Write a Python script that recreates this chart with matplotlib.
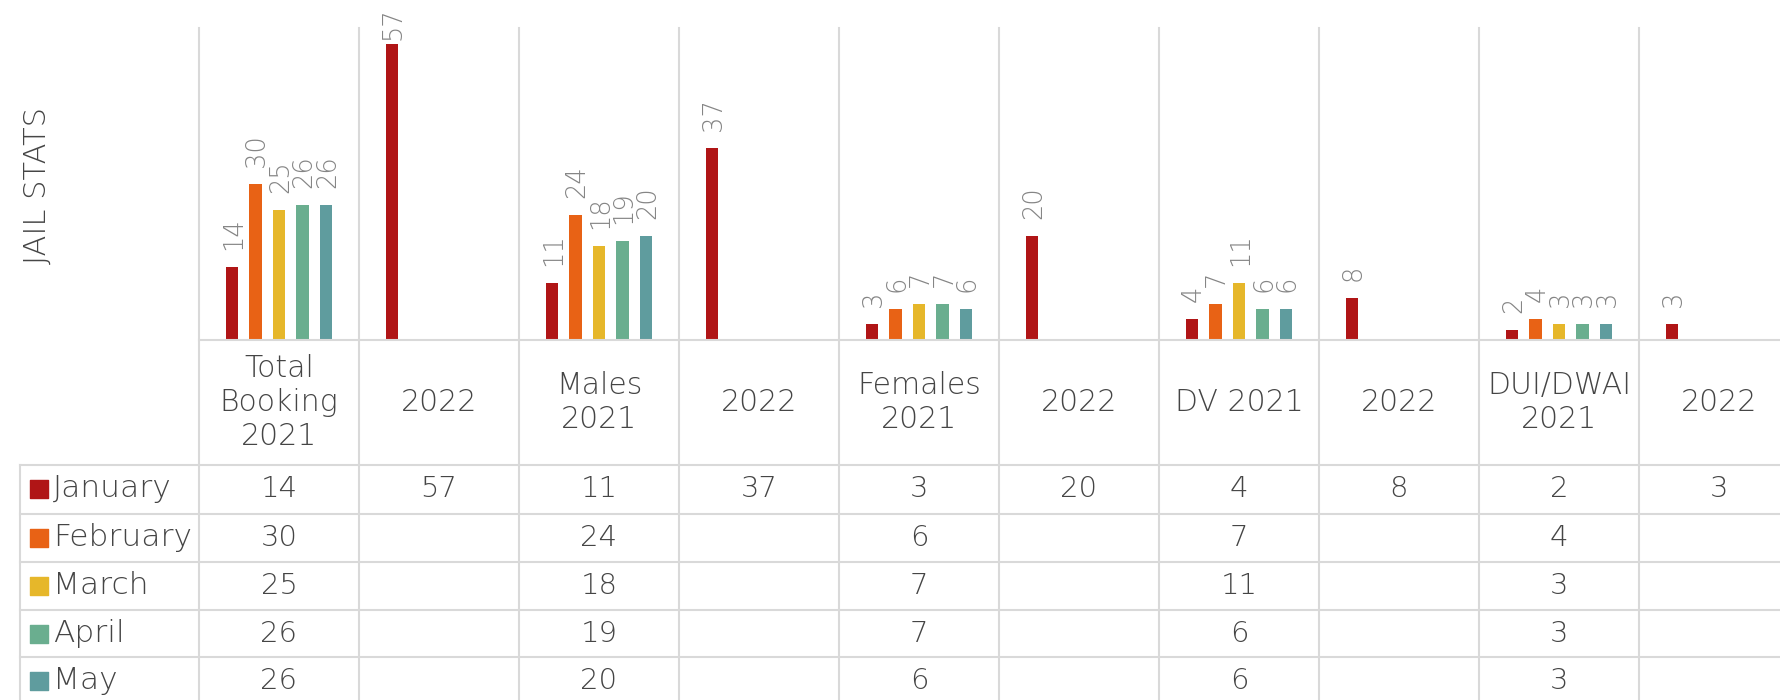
import numpy as np
import matplotlib
matplotlib.use("Agg")
import matplotlib.pyplot as plt
import matplotlib.transforms as mtransforms

plt.rcParams['font.family'] = ['DejaVu Sans']
plt.rcParams['font.weight'] = 'light'

nan = np.nan
categories = ['Total\nBooking\n2021', '2022', 'Males\n2021', '2022', 'Females\n2021',
              '2022', 'DV 2021', '2022', 'DUI/DWAI\n2021', '2022']
months = ['January', 'February', 'March', 'April', 'May']
january = [14, 57, 11, 37, 3, 20, 4, 8, 2, 3]
february = [30, nan, 24, nan, 6, nan, 7, nan, 4, nan]
march = [25, nan, 18, nan, 7, nan, 11, nan, 3, nan]
april = [26, nan, 19, nan, 7, nan, 6, nan, 3, nan]
may = [26, nan, 20, nan, 6, nan, 6, nan, 3, nan]
series = [january, february, march, april, may]
colors = ['#B01516', '#E86215', '#E6B72A', '#6AAE8F', '#5F9C9E']

W, H = 1780, 700
grid_c = '#D9D9D9'
text_c = '#454545'
label_c = '#858585'

fig = plt.figure(figsize=(W / 100, H / 100), dpi=100)
# plot area: x from 199px, 160px per category; baseline at 340px, top at 28px
left_px, cat_w, base_px, top_px = 199, 160, 340, 28
ax = fig.add_axes([left_px / W, 1 - base_px / H, cat_w * len(categories) / W, (base_px - top_px) / H])
ax.set_xlim(0, len(categories))
ax.set_ylim(0, 60)
for s in ax.spines.values():
    s.set_visible(False)
ax.set_xticks([])
ax.set_yticks([])

x = np.arange(len(categories)) + 0.5
step, bw = 0.147, 0.078
for j, (vals, col) in enumerate(zip(series, colors)):
    xs = x + (j - 2) * step
    ax.bar(xs, vals, width=bw, color=col, zorder=3)
    for xi, v in zip(xs, vals):
        if np.isnan(v):
            continue
        # labels sit ~17px above the bar, but are kept inside the chart (top at ~11px)
        bar_top = H - ax.transData.transform((xi, v))[1]
        gap = max(min(17, bar_top - 40), 2)
        ax.annotate(f'{v:g}', (xi, v), xytext=(1, gap * 0.72), textcoords='offset points',
                    rotation=90, ha='center', va='bottom', fontsize=18.5,
                    color=label_c)

fig.text(37.5 / W, 1 - 186 / H, 'JAIL STATS', rotation=90, ha='center', va='center',
         fontsize=22, color=text_c)

# table drawn under the plot, x in category units, y in figure pixels
tr = mtransforms.blended_transform_factory(ax.transData, fig.transFigure)
def fy(px):
    return 1 - px / H

tab_left = (20 - left_px) / cat_w
lw = 1.5
for i in range(len(categories) + 1):
    ax.plot([i, i], [fy(top_px), fy(H + 10)], transform=tr, color=grid_c, lw=lw, clip_on=False, zorder=1)
ax.plot([0, len(categories)], [fy(base_px)] * 2, transform=tr, color=grid_c, lw=lw, clip_on=False, zorder=4)
row_tops = [465, 514, 562, 610, 657]
row_h = 47.7
for r in row_tops:
    ax.plot([tab_left, len(categories)], [fy(r)] * 2, transform=tr, color=grid_c, lw=lw, clip_on=False)
ax.plot([tab_left, tab_left], [fy(row_tops[0]), fy(H + 10)], transform=tr, color=grid_c, lw=lw, clip_on=False)

for xi, cat in zip(x, categories):
    ax.text(xi, fy((base_px + row_tops[0]) / 2), cat, transform=tr, ha='center', va='center',
            fontsize=21.5, color=text_c, linespacing=1.22)

for r, (name, vals, col) in enumerate(zip(months, series, colors)):
    yc = fy(row_tops[r] + row_h / 2)
    ax.scatter([tab_left + 19 / cat_w], [yc], transform=tr, marker='s', s=150, color=col, clip_on=False)
    ax.text(tab_left + 33 / cat_w, yc, name, transform=tr, ha='left', va='center',
            fontsize=22.5, color=text_c)
    for xi, v in zip(x, vals):
        if not np.isnan(v):
            ax.text(xi, yc, f'{v:g}', transform=tr, ha='center', va='center',
                    fontsize=21, color=text_c)

fig.savefig('out.png', dpi=100)
